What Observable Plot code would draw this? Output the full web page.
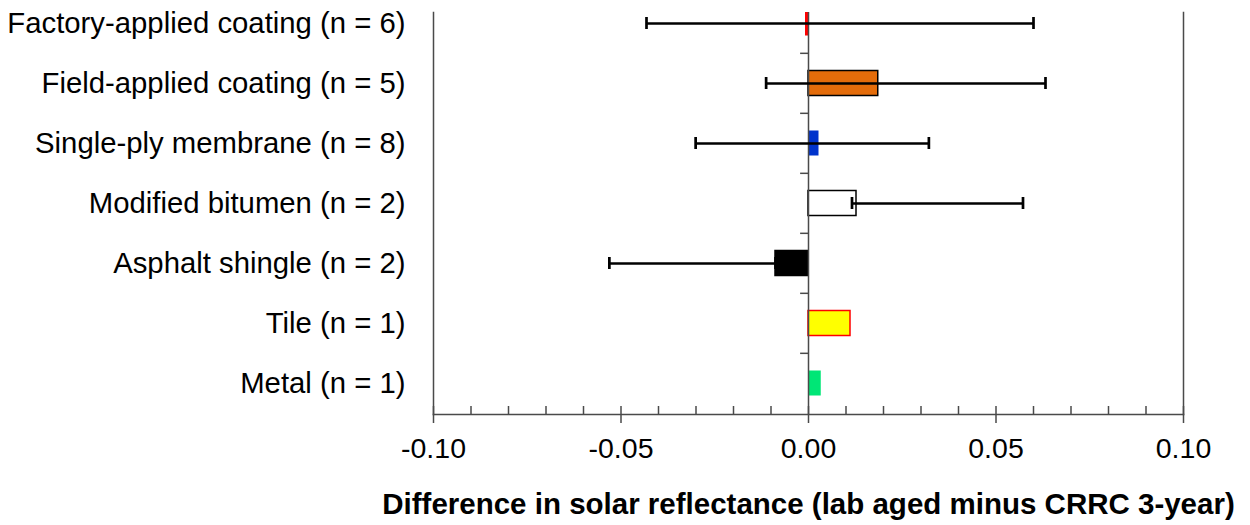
<!DOCTYPE html>
<html><head><meta charset="utf-8">
<script src="https://cdn.jsdelivr.net/npm/d3@7"></script>
<script src="https://cdn.jsdelivr.net/npm/@observablehq/plot@0.6"></script>
<style>body{margin:0;background:#fff}</style>
</head><body><div id="chart"></div>
<script>
const categories = [
  "Factory-applied coating (n = 6)",
  "Field-applied coating (n = 5)",
  "Single-ply membrane (n = 8)",
  "Modified bitumen (n = 2)",
  "Asphalt shingle (n = 2)",
  "Tile (n = 1)",
  "Metal (n = 1)"
];
const barValues = [-0.0008, 0.0186, 0.0028, 0.0128, -0.0088, 0.0112, 0.0034];
const errLow  = [-0.0432, -0.0113, -0.0301, 0.0116, -0.0531, null, null];
const errHigh = [ 0.0600,  0.0632,  0.0321, 0.0572, -0.0088, null, null];
const barFills   = ["#FF0000", "#E46C0A", "#0033CC", "#FFFFFF", "#000000", "#FFFF00", "#00E676"];
const barStrokes = ["none", "#000000", "none", "#000000", "#000000", "#FF0000", "none"];
const xTicks = [-0.10, -0.05, 0.00, 0.05, 0.10];
const minorTicks = [-0.10, -0.09, -0.08, -0.07, -0.06, -0.05, -0.04, -0.03, -0.02, -0.01, 0.00,
                    0.01, 0.02, 0.03, 0.04, 0.05, 0.06, 0.07, 0.08, 0.09, 0.10];
const xLabel = "Difference in solar reflectance (lab aged minus CRRC 3-year)";

const rows = categories.map((c, i) => ({cat: c, v: barValues[i], lo: errLow[i], hi: errHigh[i], fill: barFills[i], stroke: barStrokes[i]}));
const errRows = rows.filter(d => d.lo != null);

const W = 1250, H = 525;
const mTop = 12, mBottom = 111, mLeft = 433, mRight = 67;
const yTop = -8.4, yBottom = H - mBottom;
const step = (yBottom - yTop) / categories.length;
const axisColor = "#4a4a4a";
const font = "'Liberation Sans', Arial, sans-serif";

const chart = Plot.plot({
  width: W, height: H,
  marginTop: mTop, marginBottom: mBottom, marginLeft: mLeft, marginRight: mRight,
  style: {fontFamily: font, fontSize: "28px", color: "#000", background: "#fff"},
  x: {domain: [-0.1, 0.1], axis: null},
  y: {domain: categories, range: [yTop, yBottom], padding: 0, axis: null},
  color: {type: "identity"},
  marks: [
    Plot.barX(rows, {x1: 0, x2: "v", y: "cat", fill: "fill", stroke: "stroke", strokeWidth: 1.5,
      insetTop: 17.5, insetBottom: 17.5, clip: true}),
    Plot.ruleX([0], {stroke: axisColor, strokeWidth: 1.5}),
    Plot.ruleY(categories.slice(1), {y: d => d, x1: -0.0021, x2: 0, dy: -step / 2, stroke: axisColor, strokeWidth: 1.5}),
    Plot.ruleY(errRows, {y: "cat", x1: "lo", x2: "hi", stroke: "#000", strokeWidth: 2.7}),
    Plot.tickX(errRows, {x: "lo", y: "cat", stroke: "#000", strokeWidth: 2.7, insetTop: 24, insetBottom: 24}),
    Plot.tickX(errRows, {x: "hi", y: "cat", stroke: "#000", strokeWidth: 2.7, insetTop: 24, insetBottom: 24}),
    Plot.frame({anchor: "left", stroke: axisColor, strokeWidth: 1.5}),
    Plot.frame({anchor: "right", stroke: axisColor, strokeWidth: 1.5}),
    Plot.frame({anchor: "bottom", stroke: axisColor, strokeWidth: 1.5}),
    Plot.ruleX(minorTicks, {x: d => d, insetTop: (H - mBottom - mTop) - 8, stroke: axisColor, strokeWidth: 1.5}),
    Plot.axisX({ticks: xTicks, tickSize: 9, tickPadding: 14, tickFormat: d => d.toFixed(2),
      stroke: axisColor, strokeWidth: 1.5, fontSize: 28.5, label: null}),
    Plot.axisY({anchor: "left", tickSize: 0, tickPadding: 28, fontSize: 29.3, label: null}),
    Plot.text([xLabel], {frameAnchor: "bottom", dy: 90, lineAnchor: "middle", fontWeight: "bold", fontSize: 29.5})
  ]
});
document.getElementById("chart").appendChild(chart);
</script>
</body></html>
